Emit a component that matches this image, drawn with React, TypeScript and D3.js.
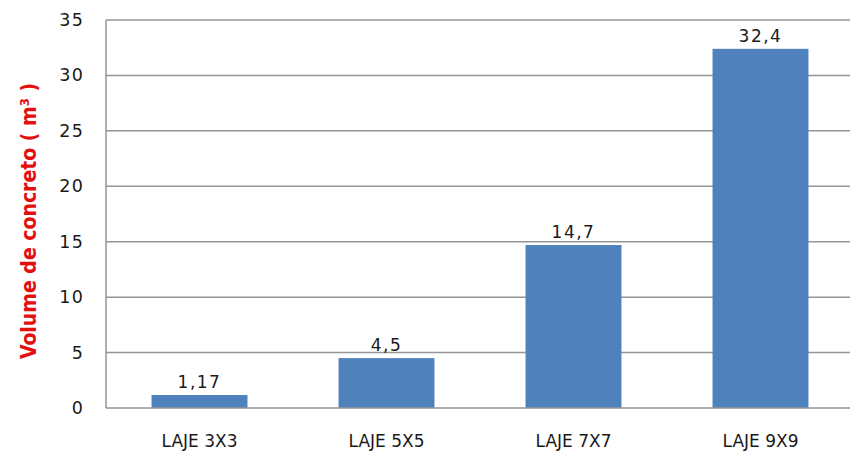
import React from "react";
import * as d3 from "d3";

const categories = ["LAJE 3X3", "LAJE 5X5", "LAJE 7X7", "LAJE 9X9"];
const values = [1.17, 4.5, 14.7, 32.4];
const valueLabels = ["1,17", "4,5", "14,7", "32,4"];
const yTicks = [0, 5, 10, 15, 20, 25, 30, 35];

export default function App() {
  const W = 850, H = 452;
  const left = 106, right = 854, top = 20, bottom = 408;
  const x = d3.scaleBand().domain(categories).range([left, right]).paddingInner(0.487).paddingOuter(0.2435);
  const y = d3.scaleLinear().domain([0, 35]).range([bottom, top]);
  const font = "'DejaVu Sans', Verdana, sans-serif";
  const condensed = "'DejaVu Sans Condensed', 'DejaVu Sans', sans-serif";
  return (
    <svg width={W} height={H} style={{ position: "absolute", left: 0, top: 0, background: "#fff" }}>
      {yTicks.map((t) => (
        <g key={t}>
          {t > 0 && <line x1={left} x2={W} y1={y(t)} y2={y(t)} stroke="#959595" strokeWidth={1.5} />}
          <text x={84} y={y(t) + 6} textAnchor="end" fontFamily={font} fontSize={17.5} letterSpacing={1.2} fill="#1a1a1a">{t}</text>
        </g>
      ))}
      {categories.map((c, i) => (
        <g key={c}>
          <rect x={x(c)} y={y(values[i])} width={x.bandwidth()} height={bottom - y(values[i])} fill="#4F81BD" />
          <text x={(x(c) as number) + x.bandwidth() / 2} y={y(values[i]) - 7} textAnchor="middle" fontFamily={font} fontSize={17} letterSpacing={1.5} fill="#1a1a1a">{valueLabels[i]}</text>
          <text x={(x(c) as number) + x.bandwidth() / 2} y={447} textAnchor="middle" fontFamily={font} fontSize={17} fill="#1a1a1a">{c}</text>
        </g>
      ))}
      <line x1={left} x2={left} y1={top} y2={bottom} stroke="#959595" strokeWidth={1.5} />
      <line x1={left} x2={W} y1={bottom} y2={bottom} stroke="#959595" strokeWidth={1.5} />
      <text transform={`translate(36,221) rotate(-90)`} textAnchor="middle" fontFamily={condensed} fontWeight="bold" fontSize={21} fill="#e31010">
        Volume de concreto  ( m<tspan baselineShift="super" fontSize={13}>3</tspan> )
      </text>
    </svg>
  );
}
